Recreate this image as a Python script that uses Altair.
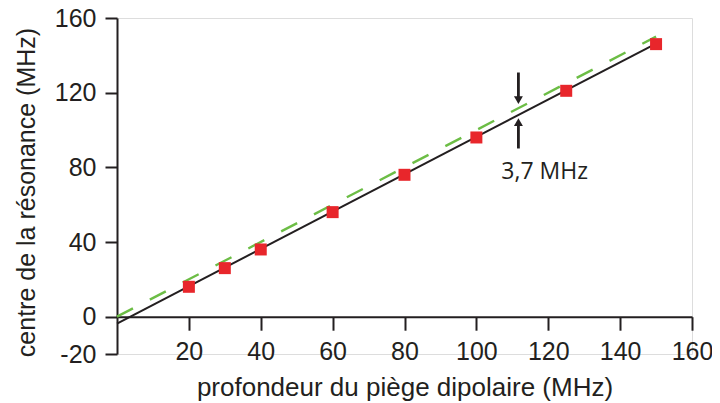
import altair as alt
import pandas as pd

# measured points
depth = [20, 30, 40, 60, 80, 100, 125, 150]
center = [16, 26, 36, 56, 76, 96, 121, 146]

# fitted line (black) and reference line y = x (green, dashed)
fit_x = [0, 150]
fit_y = [-3.7, 146.3]
ref_x = [0, 150]
ref_y = [0, 150]

# annotation
ann_x = 111.7
down_top, down_tip = 130.8, 113.4
up_bottom, up_tip = 90.1, 106.8
label_text = "3,7 MHz"
label_x, label_y = 119, 77.3

x_ticks = [20, 40, 60, 80, 100, 120, 140, 160]
y_ticks = [-20, 0, 40, 80, 120, 160]

INK = "#231f20"
FONT = "Liberation Sans"

pts = pd.DataFrame({"x": depth, "y": center})
fit = pd.DataFrame({"x": fit_x, "y": fit_y})
ref = pd.DataFrame({"x": ref_x, "y": ref_y})

xs = alt.Scale(domain=[0, 160], nice=False, zero=False)
ys = alt.Scale(domain=[-20, 160], nice=False, zero=False)

x_axis = alt.Axis(values=x_ticks, grid=False, offset=-37.3, tickSize=13.5, tickWidth=2,
                  domainWidth=2, domainColor=INK, tickColor=INK, labelColor=INK,
                  labelFont=FONT, labelFontSize=25, labelPadding=9, labelFlush=False,
                  labelExpr="'' + datum.value",
                  title="profondeur du piège dipolaire (MHz)", titleFont=FONT,
                  titleFontSize=26, titleFontWeight="normal", titleColor=INK,
                  titleBaseline="top", titleY=58)
y_axis = alt.Axis(values=y_ticks, grid=False, tickSize=12, tickWidth=2,
                  domainWidth=2, domainColor=INK, tickColor=INK, labelColor=INK,
                  labelFont=FONT, labelFontSize=25, labelPadding=9, labelFlush=False,
                  labelExpr="'' + datum.value",
                  title="centre de la résonance (MHz)", titleFont=FONT,
                  titleFontSize=25, titleFontWeight="normal", titleColor=INK,
                  titleX=-78, titleY=174)

base_x = alt.X("x:Q", scale=xs, axis=x_axis)
base_y = alt.Y("y:Q", scale=ys, axis=y_axis)

ref_line = alt.Chart(ref).mark_line(color="#6cbd45", strokeWidth=2.4,
                                    strokeDash=[18, 19]).encode(x=base_x, y=base_y)
fit_line = alt.Chart(fit).mark_line(color=INK, strokeWidth=2).encode(x="x:Q", y="y:Q")
points = alt.Chart(pts).mark_square(color="#e8262b", opacity=1, size=144).encode(x="x:Q", y="y:Q")

shafts = pd.DataFrame({"x": [ann_x, ann_x], "y": [down_top, up_bottom],
                       "y2": [down_tip + 4, up_tip - 4]})
heads = pd.DataFrame({"x": [ann_x, ann_x], "y": [down_tip + 2.6, up_tip - 2.6],
                      "s": ["triangle-down", "triangle-up"]})
shaft = alt.Chart(shafts).mark_rule(color=INK, strokeWidth=2.8).encode(x="x:Q", y="y:Q", y2="y2:Q")
head = alt.Chart(heads).mark_point(filled=True, color=INK, opacity=1, size=80).encode(
    x="x:Q", y="y:Q", shape=alt.Shape("s:N", scale=None))
lab = alt.Chart(pd.DataFrame({"x": [label_x], "y": [label_y], "t": [label_text]})).mark_text(
    font="Open Sans", fontSize=23, color=INK, align="center", baseline="middle").encode(
    x="x:Q", y="y:Q", text="t:N")

chart = alt.layer(ref_line, fit_line, points, shaft, head, lab).properties(
    width=575, height=336,
    autosize=alt.AutoSizeParams(type="none"),
    padding={"left": 109, "top": 10, "right": 20, "bottom": 56},
).configure_view(stroke=None).configure(background="white")

chart.save("out.html", embed_options={"renderer": "svg", "actions": False})
